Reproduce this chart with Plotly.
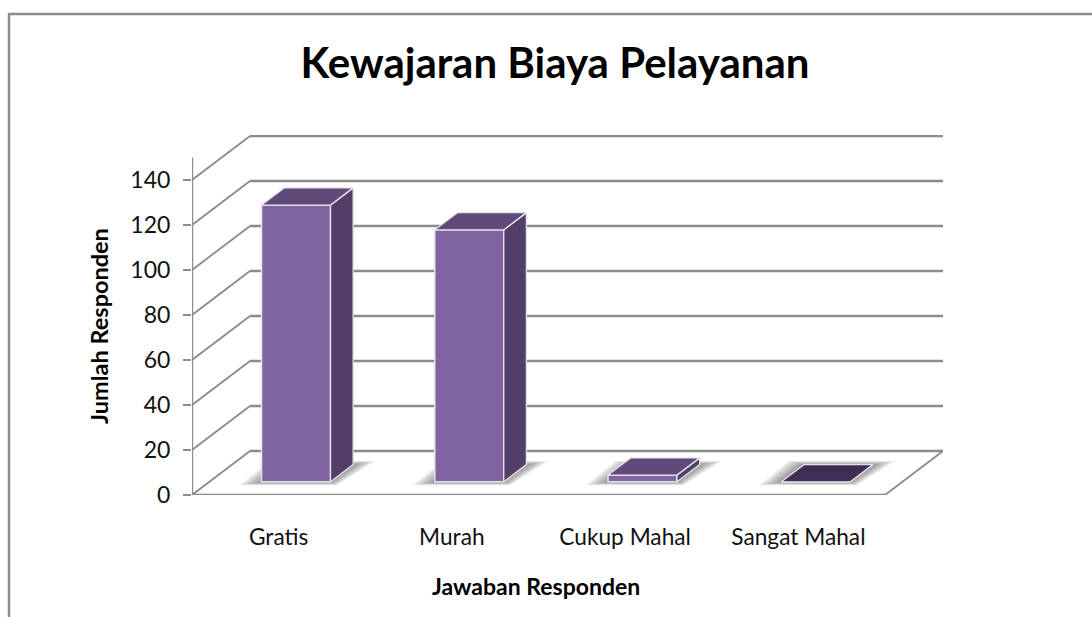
import plotly.graph_objects as go

categories = ["Gratis", "Murah", "Cukup Mahal", "Sangat Mahal"]
values = [123, 112, 3, 0]
y_ticks = [0, 20, 40, 60, 80, 100, 120, 140]
chart_title = "Kewajaran Biaya Pelayanan"
x_title = "Jawaban Responden"
y_title = "Jumlah Responden"

W, H = 1092, 617
L, R, T, B = 192, 943, 135, 495
PX_X = 173.25
PX_Y = 2.25
DX = 58 / PX_X      # depth of the floor, in axis units
DY = 44 / PX_Y
FRONT, BACK = 0.30, 0.69   # bar depth extent as a fraction of the floor depth
BAR_W = 69 / PX_X
GRID = "#8c8c8c"
EDGE = "#e6e2ea"
FONT = "Lato, Carlito, sans-serif"

fig = go.Figure()


def path(pts):
    return "M" + " L".join(f"{x},{y}" for x, y in pts) + " Z"


shapes = []
# walls
for v in y_ticks:
    shapes.append(dict(type="line", xref="x", yref="y", layer="below",
                       x0=-0.5, y0=v, x1=-0.5 + DX, y1=v + DY,
                       line=dict(color=GRID, width=1.8)))
    shapes.append(dict(type="line", xref="x", yref="y", layer="below",
                       x0=-0.5 + DX, y0=v + DY, x1=3.5 + DX, y1=v + DY,
                       line=dict(color=GRID, width=2.4)))
shapes.append(dict(type="line", xref="x", yref="y", layer="below",
                   x0=-0.5, y0=0, x1=3.5, y1=0, line=dict(color=GRID, width=2.4)))
shapes.append(dict(type="line", xref="x", yref="y", layer="below",
                   x0=3.5, y0=0, x1=3.5 + DX, y1=DY, line=dict(color=GRID, width=1.8)))
shapes.append(dict(type="line", xref="x", yref="y", layer="below",
                   x0=-0.5, y0=0, x1=-0.5, y1=150, line=dict(color=GRID, width=2.4)))

# soft floor shadows
for i in range(len(categories)):
    fx, fy = i + DX * FRONT, DY * FRONT
    bx, by = i + DX * BACK, DY * BACK
    hw = BAR_W / 2
    for grow in (22, 19, 16, 13, 10, 7, 4, 2):
        gx, gy = grow / PX_X, (grow * 0.16) / PX_Y
        pts = [(fx - hw - gx, fy - gy), (fx + hw + gx * 0.3, fy - gy),
               (bx + hw + gx, by + gy), (bx - hw + gx * 0.3 - gx, by + gy)]
        shapes.append(dict(type="path", xref="x", yref="y", layer="below", path=path(pts),
                           fillcolor="rgba(70,70,70,0.09)", line=dict(width=0)))

# front faces
fig.add_trace(go.Bar(
    x=[i + DX * FRONT for i in range(len(categories))],
    y=values, base=DY * FRONT, width=BAR_W,
    marker=dict(color="#8064A2", line=dict(color=EDGE, width=1.5)),
    showlegend=False, hoverinfo="skip"))

# side and top faces
for i, v in enumerate(values):
    fx, fy = i + DX * FRONT, DY * FRONT
    ox, oy = DX * (BACK - FRONT), DY * (BACK - FRONT)
    hw = BAR_W / 2
    side = [(fx + hw, fy), (fx + hw + ox, fy + oy), (fx + hw + ox, fy + oy + v), (fx + hw, fy + v), (fx + hw, fy)]
    top = [(fx - hw, fy + v), (fx + hw, fy + v), (fx + hw + ox, fy + oy + v), (fx - hw + ox, fy + oy + v), (fx - hw, fy + v)]
    if v > 0:
        fig.add_trace(go.Scatter(x=[p[0] for p in side], y=[p[1] for p in side], mode="lines",
                                 fill="toself", fillcolor="#533E69",
                                 line=dict(color=EDGE, width=1.3), showlegend=False, hoverinfo="skip"))
    fig.add_trace(go.Scatter(x=[p[0] for p in top], y=[p[1] for p in top], mode="lines",
                             fill="toself", fillcolor="#604A79" if v > 0 else "#3F2D54",
                             line=dict(color=EDGE, width=1.3), showlegend=False, hoverinfo="skip"))

# chart frame
shapes.append(dict(type="rect", xref="paper", yref="paper", layer="below",
                   x0=(9 - L) / (R - L), x1=(W + 20 - L) / (R - L),
                   y0=(B - (H + 20)) / (B - T), y1=(B - 14) / (B - T),
                   line=dict(color="#8c8c8c", width=2.5)))

annotations = [
    dict(text=f"<b>{x_title}</b>", xref="paper", yref="paper", showarrow=False,
         x=(536 - L) / (R - L), y=(B - 586) / (B - T), xanchor="center", yanchor="middle",
         font=dict(size=23, family=FONT, color="black")),
    dict(text=f"<b>{y_title}</b>", xref="paper", yref="paper", showarrow=False, textangle=-90,
         x=(99 - L) / (R - L), y=(B - 326) / (B - T), xanchor="center", yanchor="middle",
         font=dict(size=23.5, family=FONT, color="black")),
]

fig.update_layout(
    width=W, height=H,
    margin=dict(l=L, r=W - R, t=T, b=H - B, pad=0),
    paper_bgcolor="white", plot_bgcolor="rgba(0,0,0,0)",
    showlegend=False, shapes=shapes, annotations=annotations,
    font=dict(family=FONT, color="black", size=22),
    title=dict(text=f"<b>{chart_title}</b>", x=555 / W, xanchor="center",
               y=1 - 63 / H, yanchor="middle", yref="container",
               font=dict(size=42, family=FONT, color="black")),
    xaxis=dict(range=[-0.5, -0.5 + (R - L) / PX_X], tickmode="array",
               tickvals=list(range(len(categories))), ticktext=categories,
               ticks="outside", ticklen=22, tickcolor="rgba(0,0,0,0)",
               showgrid=False, zeroline=False, showline=False,
               tickfont=dict(size=22.7, family=FONT, color="#111")),
    yaxis=dict(range=[0, (B - T) / PX_Y], tickmode="array", tickvals=y_ticks,
               ticks="outside", ticklen=8, tickwidth=2.4, tickcolor=GRID, ticklabelstandoff=8,
               showgrid=False, zeroline=False, showline=False,
               tickfont=dict(size=23, family=FONT, color="#111")),
)

fig.write_html("out.html", config=dict(displayModeBar=False),
               post_script="document.body.style.margin='0';document.body.style.overflow='hidden';")
